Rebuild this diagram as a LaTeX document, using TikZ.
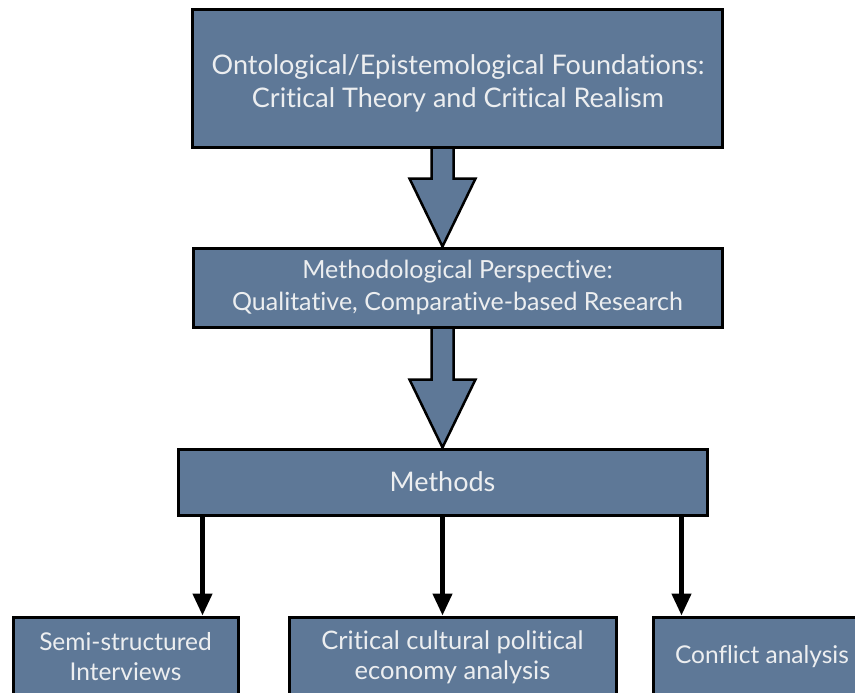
\documentclass[tikz,border=0pt]{standalone}
\usepackage{fontspec}
\setmainfont{Lato}[Ligatures=NoCommon]
\usetikzlibrary{arrows.meta, calc, backgrounds}
\definecolor{slateblue}{RGB}{94,120,151}
\definecolor{paletext}{RGB}{236,238,240}

\begin{document}
\begin{tikzpicture}[
  x=1pt, y=-1pt,
  box/.style={draw=black, line width=3pt, fill=slateblue, text=paletext, align=center, inner sep=0pt, font=\fontsize{25}{32}\selectfont},
  boxtext/.style={text=paletext, align=center, inner sep=0pt, font=\fontsize{27}{33}\selectfont},
  leafbox/.style={box, minimum height=80, font=\fontsize{24.5}{30}\selectfont},
  fatarrow/.style={draw=black, line width=2.5pt, fill=slateblue, line join=miter},
  thinarrow/.style={draw=black, line width=4.5pt, -{Triangle[width=19pt, length=22pt]}},
]
\clip (0,0) rectangle (855,693);

\node[box, minimum width=530, minimum height=137] (found) at (457,78.5) {};
\node[boxtext] (foundtext) at ($(found.center)+(1,5)$) {Ontological/Epistemological Foundations:\\Critical Theory and Critical Realism};
\node[box, minimum width=529, minimum height=79] (persp) at (457.5,287.5) {Methodological Perspective:\\Qualitative, Comparative-based Research};
\node[box, minimum width=529, minimum height=66, font=\fontsize{27}{32}\selectfont] (meth) at (442.5,482) {Methods};

\node[leafbox, minimum width=225] (semi) at (125.5,657) {Semi-structured\\Interviews};
\node[leafbox, minimum width=327, font=\fontsize{25.5}{30}\selectfont] (cult) at (452.5,657) {Critical cultural political\\economy analysis};
\node[leafbox, minimum width=218] (confl) at (762,657) {Conflict analysis};

% fat arrows between the upper boxes
\begin{scope}[on background layer]
\fill[white] (0,0) rectangle (855,693);
\foreach \a/\b in {found/persp, persp/meth}{
  \draw[fatarrow] let \p1=(\a.south), \p2=(\b.north), \p3=(meth.north) in
    (\x3-11pt,\y1) -- (\x3-11pt,\y2+68pt) -- (\x3-33pt,\y2+68pt) -- (\x3,\y2)
    -- (\x3+33pt,\y2+68pt) -- (\x3+11pt,\y2+68pt) -- (\x3+11pt,\y1);
}
\end{scope}

% methods to leaves
\coordinate (ma) at ($(meth.south west)+(26,0)$);
\coordinate (mb) at (meth.south);
\coordinate (mc) at ($(meth.south east)+(-27,0)$);
\foreach \c/\t in {ma/semi, mb/cult, mc/confl}
  \draw[thinarrow] (\c) -- (\c |- \t.north);
\end{tikzpicture}
\end{document}
